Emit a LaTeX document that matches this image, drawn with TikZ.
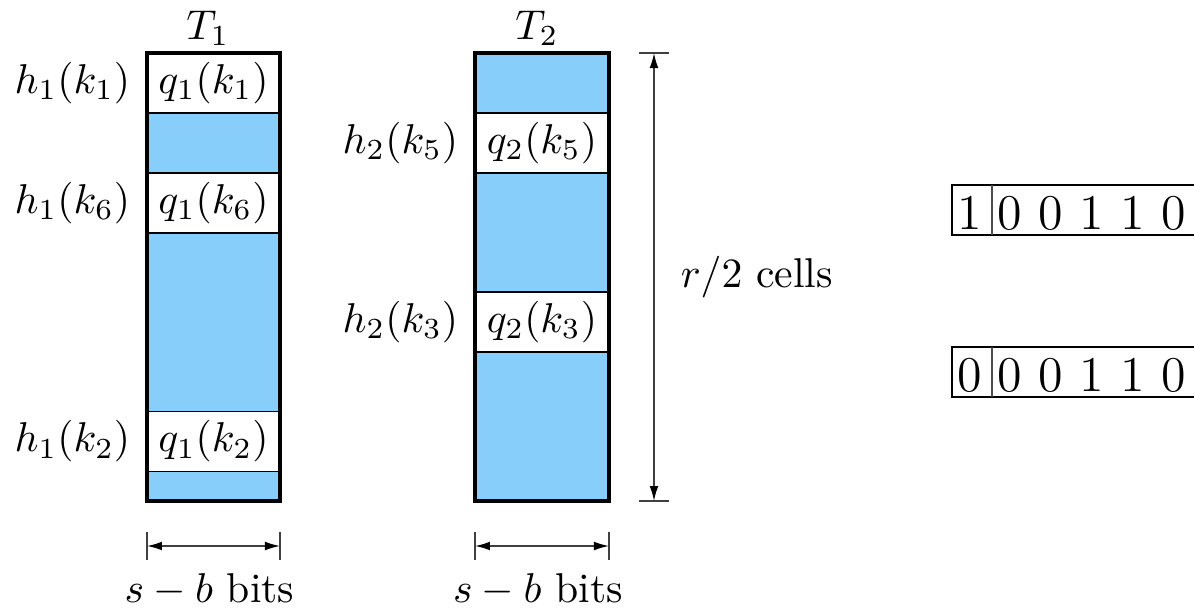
\documentclass[tikz,border=0pt]{standalone}
\usetikzlibrary{arrows.meta, calc}
\definecolor{cellblue}{RGB}{135,206,250}
\tikzset{
  tbl/.style={line width=0.75pt},
  slot/.style={fill=white, draw=black, line width=0.45pt},
  key/.style={anchor=east, inner sep=0pt},
  tick/.style={line width=0.35pt, black!75},
  dim/.style={tick, {Latex[length=3.6pt,width=2.1pt,black]}-{Latex[length=3.6pt,width=2.1pt,black]}},
  bitbox/.style={line width=0.4pt},
}
\begin{document}
\begin{tikzpicture}[x=0.24pt, y=-0.24pt]
  \clip (0,0) rectangle (1194,608);
  % Table T1
  \coordinate (t1nw) at (147,53); \coordinate (t1se) at (280,501);
  \fill[cellblue] (t1nw) rectangle (t1se);
  \foreach \y/\i in {83/1, 203/6, 441.5/2} {
    \draw[slot] (147,\y-30) rectangle (280,\y+30);
    \node (q1k\i) at (213.5,\y) {$q_1(k_\i)$};
    \node[key] (h1k\i) at (131,\y) {$h_1(k_\i)$};
  }
  \draw[tbl] (t1nw) rectangle (t1se);
  \node (T1) at (208,28) {$T_1$};
  % Table T2
  \coordinate (t2nw) at (475,53); \coordinate (t2se) at (609,501);
  \fill[cellblue] (t2nw) rectangle (t2se);
  \foreach \y/\i in {143/5, 322/3} {
    \draw[slot] (475,\y-30) rectangle (609,\y+30);
    \node (q2k\i) at (542,\y) {$q_2(k_\i)$};
    \node[key] (h2k\i) at (459,\y) {$h_2(k_\i)$};
  }
  \draw[tbl] (t2nw) rectangle (t2se);
  \node (T2) at (537,28) {$T_2$};
  % Hauteur
  \coordinate (rtop) at (654,53); \coordinate (rbot) at (654,501);
  \draw[tick] (639,53) -- (669,53) (639,501) -- (669,501);
  \draw[dim] (rtop) -- (rbot);
  \node[anchor=west, inner sep=0pt] (rcells) at (680,277) {$r/2$ cells};
  % Largeurs
  \foreach \xa/\xb/\n in {147/280/1, 475/609/2} {
    \coordinate (wl\n) at (\xa,546); \coordinate (wr\n) at (\xb,546);
    \draw[tick] (\xa,532) -- (\xa,560) (\xb,532) -- (\xb,560);
    \draw[dim] (wl\n) -- (wr\n);
    \node (bits\n) at ($(\xa,590)!0.47!(\xb,590)$) {$s-b$ bits};
  }
  % Mots
  \foreach \y/\f/\n in {185/1/a, 347/0/b} {
    \draw[bitbox] (1200,\y) -- (952,\y) -- (952,\y+50) -- (1200,\y+50);
    \draw[bitbox, black!70] (992,\y) -- (992,\y+50);
    \node (flag\n) at (970,\y+28) {\large \f};
    \node[anchor=west, inner sep=0pt] (word\n) at (997,\y+28) {\large 0 0 1 1 0};
  }
\end{tikzpicture}
\end{document}
